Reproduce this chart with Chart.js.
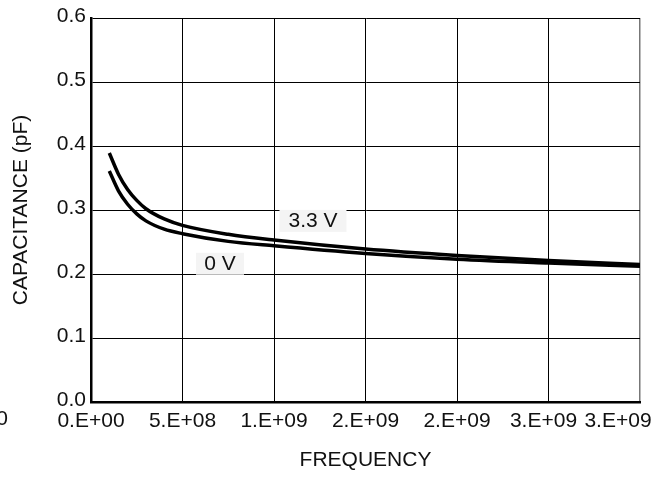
<!DOCTYPE html>
<html>
<head>
<meta charset="utf-8">
<script src="https://cdn.jsdelivr.net/npm/chart.js@4/dist/chart.umd.min.js"></script>
<style>
body{margin:0;background:#fff;}
#c{display:block;}
</style>
</head>
<body>
<canvas id="c" width="668" height="477"></canvas>
<script>
// frequency (Hz) and capacitance (pF)
var freq=[1.0e8,1.5e8,2.0e8,2.5e8,3.0e8,4.0e8,5.0e8,7.5e8,1.0e9,1.5e9,2.0e9,2.5e9,3.0e9];
var cap33=[0.389,0.356,0.332,0.315,0.302,0.286,0.276,0.262,0.253,0.239,0.229,0.221,0.215];
var cap0=[0.361,0.330,0.309,0.294,0.283,0.270,0.263,0.251,0.244,0.232,0.223,0.217,0.212];
var seriesNames=['3.3 V','0 V'];
var xTickLabels=['0.E+00','5.E+08','1.E+09','2.E+09','2.E+09','3.E+09','3.E+09'];
var yTickLabels=['0.0','0.1','0.2','0.3','0.4','0.5','0.6'];

var FONT='"Liberation Sans", Arial, Helvetica, sans-serif';
var FS=21;

function pts(ys){
    var out=[];
    for(var i=0;i<freq.length;i++) out.push({x:freq[i],y:ys[i]});
    return out;
}

// curve labels, placed in data units
var curveLabels=[
    {text:seriesNames[0],x:1.213e9,y:0.283,w:67},
    {text:seriesNames[1],x:0.705e9,y:0.216,w:48}
];

// the last two x labels sit a bit left of their ticks in the original
var xLabelShift=[0,0,0,0,0,-5,-22];

var labelPlugin={
    id:'curvelabels',
    beforeDraw:function(chart){
        var items=chart.scales.x.getLabelItems();
        if(!chart.$shifted){
            items.forEach(function(it,i){it.options.translation[0]+=xLabelShift[i]||0;});
            chart.$shifted=true;
        }
    },
    afterDatasetsDraw:function(chart){
        var ctx=chart.ctx,xs=chart.scales.x,ys=chart.scales.y;
        ctx.save();
        ctx.font=FS+'px '+FONT;
        ctx.textAlign='center';
        ctx.textBaseline='middle';
        curveLabels.forEach(function(l){
            var px=xs.getPixelForValue(l.x),py=ys.getPixelForValue(l.y);
            ctx.fillStyle='#f4f4f4';
            ctx.fillRect(px-l.w/2,py-11,l.w,22);
            ctx.fillStyle='#111';
            ctx.fillText(l.text,px,py);
        });
        // clipped stray label at the left edge
        ctx.textAlign='right';
        ctx.fillText('0',8,419);
        ctx.restore();
    }
};

new Chart(document.getElementById('c'),{
    type:'line',
    data:{
        datasets:[
            {label:seriesNames[0],data:pts(cap33)},
            {label:seriesNames[1],data:pts(cap0)}
        ]
    },
    options:{
        responsive:false,
        animation:false,
        parsing:false,
        layout:{padding:{left:0,right:28,top:18,bottom:0}},
        elements:{
            point:{radius:0},
            line:{borderColor:'#000',borderWidth:3.5,cubicInterpolationMode:'monotone',fill:false}
        },
        plugins:{legend:{display:false},tooltip:{enabled:false}},
        scales:{
            x:{
                type:'linear',min:0,max:3e9,
                afterFit:function(s){s.height=75;s.paddingLeft=0;s.paddingRight=0;},
                ticks:{stepSize:5e8,color:'#111',font:{family:FONT,size:FS},padding:7,maxRotation:0,autoSkip:false,
                    callback:function(v,i){return xTickLabels[i];}},
                grid:{color:function(c){return c.tick&&c.tick.value===3e9?'#777':'#000';},lineWidth:function(c){return c.tick&&c.tick.value===3e9?1.5:1;},drawTicks:false},
                border:{color:'#000',width:2.5},
                title:{display:true,text:'FREQUENCY',color:'#111',font:{family:FONT,size:FS},padding:{top:0,bottom:4}}
            },
            y:{
                min:0,max:0.6,
                afterFit:function(s){s.width=91;s.paddingTop=0;s.paddingBottom=0;},
                ticks:{stepSize:0.1,color:'#111',font:{family:FONT,size:FS},padding:5,labelOffset:-2,
                    callback:function(v,i){return yTickLabels[i];}},
                grid:{color:'#000',lineWidth:1,drawTicks:false},
                border:{color:'#000',width:2.5},
                title:{display:true,text:'CAPACITANCE (pF)',color:'#111',font:{family:FONT,size:FS},padding:{top:9,bottom:0}}
            }
        }
    },
    plugins:[labelPlugin]
});
</script>
</body>
</html>
